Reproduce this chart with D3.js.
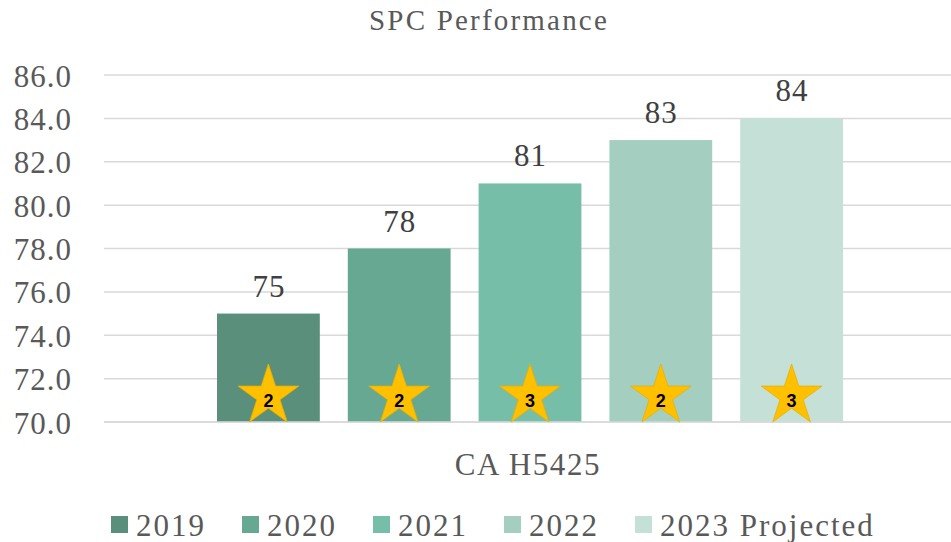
<!DOCTYPE html>
<html>
<head>
<meta charset="utf-8">
<script src="https://cdnjs.cloudflare.com/ajax/libs/d3/7.8.5/d3.min.js"></script>
<style>
  body { margin: 0; background: #fff; }
  svg { display: block; }
  text { font-family: "Liberation Serif", "Times New Roman", serif; fill: #595959; }
</style>
</head>
<body>
<svg width="951" height="542"></svg>
<script>
// chart data
var years = ["2019", "2020", "2021", "2022", "2023 Projected"];
var scores = [75, 78, 81, 83, 84];
var stars = [2, 2, 3, 2, 3];
var colors = ["#5a8f7b", "#67a893", "#76bea8", "#a4cfc0", "#c5e0d6"];
var yTicks = [70, 72, 74, 76, 78, 80, 82, 84, 86];
var category = "CA H5425";

var svg = d3.select("svg"),
    plot = { left: 104, right: 951, top: 75, bottom: 422 };

var y = d3.scaleLinear().domain([70, 86]).range([plot.bottom, plot.top]);
var x = d3.scaleBand().domain(years).range([217, 843]).paddingInner(0.214).paddingOuter(0);

// title
svg.append("text")
    .attr("x", 489).attr("y", 30)
    .attr("text-anchor", "middle")
    .style("font-size", "29px").style("letter-spacing", "2.2px")
    .text("SPC Performance");

// gridlines
svg.append("g").selectAll("line")
    .data(yTicks)
    .enter().append("line")
    .attr("x1", plot.left).attr("x2", plot.right)
    .attr("y1", function(d) { return y(d); })
    .attr("y2", function(d) { return y(d); })
    .attr("stroke", "#d9d9d9").attr("stroke-width", 1.5);

// y tick labels
svg.append("g").selectAll("text")
    .data(yTicks)
    .enter().append("text")
    .attr("x", 72).attr("y", function(d) { return y(d) + 11.5; })
    .attr("text-anchor", "end")
    .style("font-size", "31px").style("letter-spacing", "1px")
    .text(function(d) { return d3.format(".1f")(d); });

var data = years.map(function(d, i) {
    return { year: d, score: scores[i], stars: stars[i], color: colors[i] };
});

// bars
svg.append("g").selectAll("rect")
    .data(data)
    .enter().append("rect")
    .attr("x", function(d) { return x(d.year); })
    .attr("y", function(d) { return y(d.score); })
    .attr("width", x.bandwidth())
    .attr("height", function(d) { return y(70) - y(d.score); })
    .attr("fill", function(d) { return d.color; });

// value labels
svg.append("g").selectAll("text")
    .data(data)
    .enter().append("text")
    .attr("x", function(d) { return x(d.year) + x.bandwidth() / 2 + 0.5; })
    .attr("y", function(d) { return y(d.score) - 17; })
    .attr("text-anchor", "middle")
    .style("font-size", "31px").style("letter-spacing", "1px")
    .style("fill", "#404040")
    .text(function(d) { return d.score; });

// axis line
svg.append("line")
    .attr("x1", plot.left).attr("x2", plot.right)
    .attr("y1", plot.bottom).attr("y2", plot.bottom)
    .attr("stroke", "#d9d9d9").attr("stroke-width", 1.5);

// star rating badges
var starPath = d3.symbol().type(d3.symbolStar).size(1150);
var badges = svg.append("g").selectAll("g")
    .data(data)
    .enter().append("g")
    .attr("transform", function(d) {
        return "translate(" + (x(d.year) + x.bandwidth() / 2) + ",396)";
    });
badges.append("path")
    .attr("d", starPath)
    .attr("fill", "#ffc000")
    .attr("stroke", "#e8b000").attr("stroke-width", 0.8);
badges.append("text")
    .attr("y", 11)
    .attr("text-anchor", "middle")
    .style("font-family", "'Liberation Sans', Arial, sans-serif")
    .style("font-weight", "bold").style("font-size", "18px")
    .style("fill", "#000")
    .text(function(d) { return d.stars; });

// category label
svg.append("text")
    .attr("x", 528).attr("y", 475)
    .attr("text-anchor", "middle")
    .style("font-size", "31px").style("letter-spacing", "1.6px")
    .text(category);

// legend
var legend = svg.append("g");
var lx = 111;
data.forEach(function(d) {
    legend.append("rect")
        .attr("x", lx).attr("y", 516)
        .attr("width", 17).attr("height", 17)
        .attr("fill", d.color);
    var t = legend.append("text")
        .attr("x", lx + 25).attr("y", 536)
        .style("font-size", "31px").style("letter-spacing", "2px")
        .text(d.year);
    lx += 25 + t.node().getComputedTextLength() + 36;
});
</script>
</body>
</html>
